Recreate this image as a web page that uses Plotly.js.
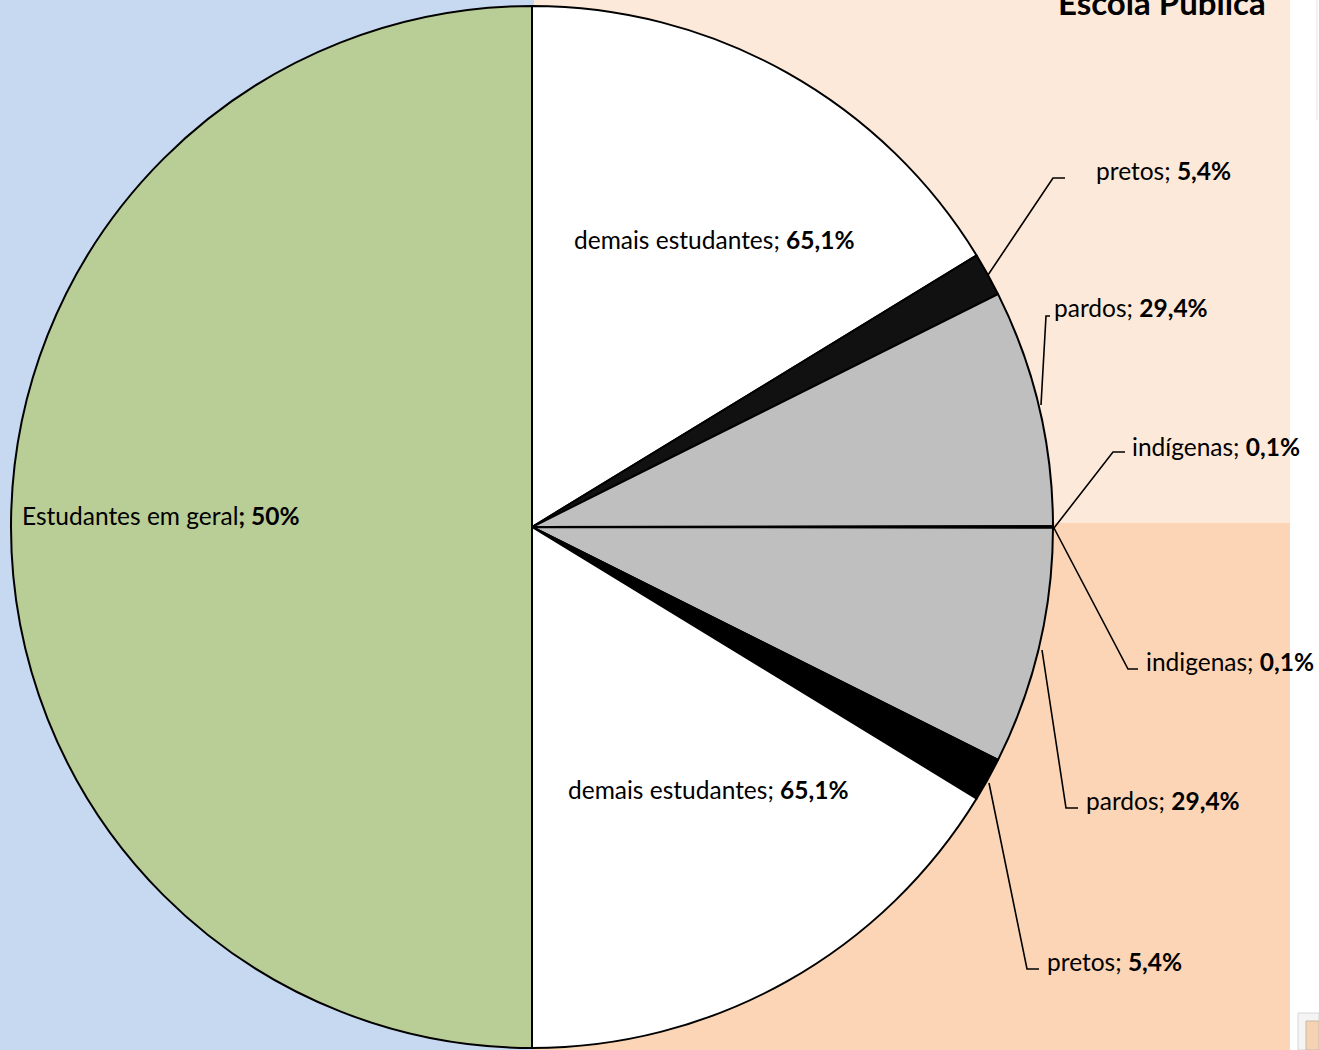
<!DOCTYPE html>
<html>
<head>
<meta charset="utf-8">
<script src="https://cdn.plot.ly/plotly-3.0.1.min.js"></script>
<style>html,body{margin:0;padding:0;background:#fff;}#chart{width:1319px;height:1050px;}</style>
</head>
<body>
<div id="chart"></div>
<script>
// ---- data ----
const topGroups = ['demais estudantes', 'pretos', 'pardos', 'indígenas'];
const topShares = [65.1, 5.4, 29.4, 0.1];          // % within "Escola Pública" (upper quarter)
const bottomGroups = ['indigenas', 'pardos', 'pretos', 'demais estudantes'];
const bottomShares = [0.1, 29.4, 5.4, 65.1];       // % within lower quarter
const generalLabel = 'Estudantes em geral';
const generalShare = 50;                            // % of the whole pie
const titleText = 'Escola Pública';

const topColors = ['#FFFFFF', '#111111', '#BFBFBF', '#BFBFBF'];
const bottomColors = ['#BFBFBF', '#BFBFBF', '#000000', '#FFFFFF'];
const generalColor = '#B9CD96';

// each quarter takes 25% of the pie
const quarter = (100 - generalShare) / 2;
const ids = [], values = [], colors = [];
topGroups.forEach((g, i) => { ids.push('top-' + g); values.push(topShares[i] * quarter / 100); colors.push(topColors[i]); });
bottomGroups.forEach((g, i) => { ids.push('bot-' + g); values.push(bottomShares[i] * quarter / 100); colors.push(bottomColors[i]); });
ids.push('geral'); values.push(generalShare); colors.push(generalColor);

const fmt = v => v.toString().replace('.', ',') + '%';

const W = 1319, H = 1050;
const px = x => x / W, py = y => 1 - y / H;

const trace = {
  type: 'pie',
  labels: ids,
  values: values,
  sort: false,
  direction: 'clockwise',
  rotation: 0,
  textinfo: 'none',
  hoverinfo: 'none',
  showlegend: false,
  marker: { colors: colors, line: { color: '#000000', width: 2 } },
  domain: { x: [px(11), px(1053)], y: [py(1048), py(6)] }
};

const FONT = 'Lato, "Open Sans", sans-serif';
const FS = 24.5;
function lab(text, x, y) {
  return { text: text, x: px(x), y: py(y), xref: 'paper', yref: 'paper', xanchor: 'left', yanchor: 'middle',
           showarrow: false, font: { family: FONT, size: FS, color: '#000' } };
}
const annotations = [
  lab(topGroups[1] + '; <b>' + fmt(topShares[1]) + '</b>', 1094, 171),
  lab(topGroups[2] + '; <b>' + fmt(topShares[2]) + '</b>', 1052, 307),
  lab(topGroups[3] + '; <b>' + fmt(topShares[3]) + '</b>', 1130, 446),
  lab(bottomGroups[0] + '; <b>' + fmt(bottomShares[0]) + '</b>', 1144, 661),
  lab(bottomGroups[1] + '; <b>' + fmt(bottomShares[1]) + '</b>', 1084, 800),
  lab(bottomGroups[2] + '; <b>' + fmt(bottomShares[2]) + '</b>', 1045, 961),
  lab(topGroups[0] + '; <b>' + fmt(topShares[0]) + '</b>', 572, 240),
  lab(bottomGroups[3] + '; <b>' + fmt(bottomShares[3]) + '</b>', 566, 789),
  lab(generalLabel + '<b>; ' + generalShare + '%</b>', 20, 515),
  { text: '<b>' + titleText + '</b>', x: px(1162), y: py(24), xref: 'paper', yref: 'paper', xanchor: 'center', yanchor: 'bottom',
    showarrow: false, font: { family: FONT, size: 33, color: '#000' } }
];

function rect(x0, y0, x1, y1, fill, line) {
  return { type: 'rect', xref: 'paper', yref: 'paper', x0: px(x0), x1: px(x1), y0: py(y1), y1: py(y0),
           fillcolor: fill, line: line || { width: 0 }, layer: 'below' };
}
function leader(pts) {
  const d = pts.map((p, i) => (i ? 'L' : 'M') + px(p[0]) + ',' + py(p[1])).join(' ');
  return { type: 'path', xref: 'paper', yref: 'paper', path: d, line: { color: '#000', width: 1.6 }, layer: 'above' };
}
const shapes = [
  rect(0, 0, 534, 1050, '#C6D9F1'),
  rect(534, 0, 1290, 523, '#FDE9D9'),
  rect(534, 523, 1290, 1050, '#FBD5B5'),
  { type: 'line', xref: 'paper', yref: 'paper', x0: px(1317), x1: px(1317), y0: py(120), y1: py(0), line: { color: '#E4E4E4', width: 1 }, layer: 'below' },
  rect(1298, 1013, 1319, 1050, '#F4F4F4', { color: '#D6D6D6', width: 1 }),
  rect(1306, 1021, 1319, 1050, '#F3D3B3', { color: '#CDB8A5', width: 1 }),
  leader([[988, 275], [1053, 178], [1065, 178]]),
  leader([[1041, 405], [1046, 316], [1050, 316]]),
  leader([[1054, 528], [1113, 452], [1125, 452]]),
  leader([[1054, 528], [1128, 669], [1138, 669]]),
  leader([[1042, 650], [1066, 808], [1078, 808]]),
  leader([[989, 783], [1027, 969], [1039, 969]])
];

const layout = {
  width: W, height: H,
  margin: { l: 0, r: 0, t: 0, b: 0, pad: 0 },
  paper_bgcolor: '#FFFFFF',
  showlegend: false,
  annotations: annotations,
  shapes: shapes
};

Plotly.newPlot('chart', [trace], layout, { displayModeBar: false, staticPlot: true });
</script>
</body>
</html>
